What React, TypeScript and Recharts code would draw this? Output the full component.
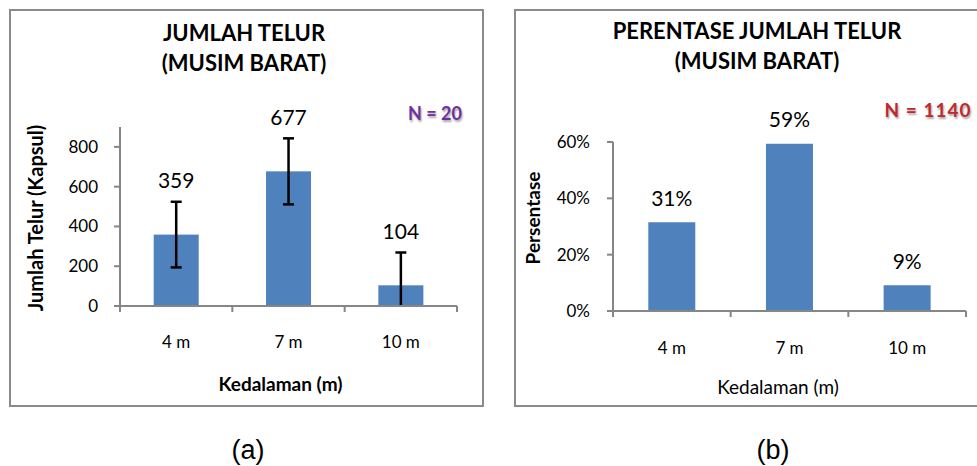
import React from 'react';
import { BarChart, Bar, XAxis, YAxis, LabelList, Label } from 'recharts';

const categories = ['4 m', '7 m', '10 m'];
const eggCounts = [359, 677, 104];
const eggErrors = [165, 166, 165];
const countTicks = [0, 200, 400, 600, 800];
const percentValues = [31.5, 59.4, 9.1];
const percentLabels = ['31%', '59%', '9%'];
const percentTicks = [0, 20, 40, 60];

const countData = categories.map((c, i) => ({ cat: c, value: eggCounts[i], err: eggErrors[i] }));
const percentData = categories.map((c, i) => ({ cat: c, value: percentValues[i], label: percentLabels[i] }));

const FONT = 'Lato, "Open Sans", "DejaVu Sans", sans-serif';
const AXIS = '#868686';
const BAR = '#4F81BD';

const makeCatTick = (labelDy: number, fallbackHalf: number) => (props: any) => {
  const { x, y, payload, index } = props;
  const half = payload && typeof payload.offset === 'number' && payload.offset > 0 ? payload.offset : fallbackHalf;
  const last = index === categories.length - 1;
  return (
    <g>
      <line x1={x - half} x2={x - half} y1={y} y2={y + 6} stroke={AXIS} strokeWidth={2} />
      {last && <line x1={x + half} x2={x + half} y1={y} y2={y + 6} stroke={AXIS} strokeWidth={2} />}
      <text x={x} y={y + labelDy} textAnchor="middle" dominantBaseline="central" fontFamily={FONT} fontSize={17} fill="#000">
        {payload.value}
      </text>
    </g>
  );
};

// Bar with error bar: error length derived from the bar's own pixel scale (height / value)
const BarWithError = (props: any) => {
  const { x, y, width, height, fill, payload } = props;
  const val = payload.value;
  const pxPerUnit = val ? height / val : 0;
  const errPx = payload.err * pxPerUnit;
  const cx = x + width / 2;
  const base = y + height;
  const top = y - errPx;
  const rawBottom = y + errPx;
  const clipped = rawBottom > base;
  const bottom = clipped ? base : rawBottom;
  const cap = 5.5;
  return (
    <g>
      <rect x={x} y={y} width={width} height={height} fill={fill} />
      <line x1={cx} x2={cx} y1={top} y2={bottom} stroke="#000" strokeWidth={2.5} />
      <line x1={cx - cap} x2={cx + cap} y1={top} y2={top} stroke="#000" strokeWidth={2.5} />
      {!clipped && <line x1={cx - cap} x2={cx + cap} y1={bottom} y2={bottom} stroke="#000" strokeWidth={2.5} />}
    </g>
  );
};

const makeTopLabel = (gap: number) => (props: any) => {
  const { x, y, width, value } = props;
  return (
    <text x={x + width / 2} y={y - gap} textAnchor="middle" dominantBaseline="central" fontFamily={FONT} fontSize={21} fill="#000">
      {value}
    </text>
  );
};

const makeYTitle = (text: string, dxFromLeft: number, dyFromMid: number, size: number) => (props: any) => {
  const vb = props.viewBox || {};
  const cx = vb.x + dxFromLeft;
  const cy = vb.y + vb.height / 2 + dyFromMid;
  return (
    <text x={cx} y={cy} transform={`rotate(-90 ${cx} ${cy})`} textAnchor="middle" dominantBaseline="central" fontFamily={FONT} fontWeight="bold" fontSize={size} fill="#000">
      {text}
    </text>
  );
};

const makeXTitle = (text: string, dxFromMid: number, dyFromTop: number, bold: boolean) => (props: any) => {
  const vb = props.viewBox || {};
  const cx = vb.x + vb.width / 2 + dxFromMid;
  const cy = vb.y + dyFromTop;
  return (
    <text x={cx} y={cy} textAnchor="middle" dominantBaseline="central" fontFamily={FONT} fontWeight={bold ? 'bold' : 'normal'} fontSize={19} fill="#000">
      {text}
    </text>
  );
};

const titleStyle = (cx: number, top: number): React.CSSProperties => ({
  position: 'absolute',
  left: cx - 200,
  top,
  width: 400,
  textAlign: 'center',
  fontFamily: FONT,
  fontWeight: 'bold',
  fontSize: 22,
  lineHeight: '30px',
  color: '#000',
});

const capStyle = (left: number): React.CSSProperties => ({
  position: 'absolute',
  left,
  top: 434,
  width: 100,
  textAlign: 'center',
  fontFamily: '"Liberation Sans", Arial, sans-serif',
  fontSize: 27,
  lineHeight: '32px',
  color: '#000',
});

export default function App() {
  return (
    <div style={{ position: 'absolute', left: 0, top: 0, width: 977, height: 466, background: '#fff', overflow: 'hidden' }}>
      <div style={{ position: 'absolute', left: 9, top: 9, width: 475, height: 398, border: '2px solid #8a8a8a', boxSizing: 'border-box' }} />
      <div style={{ position: 'absolute', left: 514, top: 9, width: 500, height: 398, border: '2px solid #8a8a8a', boxSizing: 'border-box' }} />

      <div style={titleStyle(244, 18)}>
        JUMLAH TELUR
        <br />
        (MUSIM BARAT)
      </div>
      <div style={titleStyle(757, 16)}>
        PERENTASE JUMLAH TELUR
        <br />
        (MUSIM BARAT)
      </div>

      <div style={{ position: 'absolute', left: 395, top: 102, width: 80, textAlign: 'center', fontFamily: FONT, fontWeight: 'bold', fontSize: 18, lineHeight: '22px', color: '#7030A0', textShadow: '1px 2px 2px rgba(0,0,0,0.35)' }}>
        N = 20
      </div>
      <div style={{ position: 'absolute', left: 868, top: 98, width: 120, textAlign: 'center', fontFamily: FONT, fontWeight: 'bold', fontSize: 19, letterSpacing: 1, lineHeight: '24px', color: '#C0282D', textShadow: '1px 2px 2px rgba(0,0,0,0.35)' }}>
        N = 1140
      </div>

      <div style={{ position: 'absolute', left: 10, top: 9 }}>
        <BarChart width={473} height={397} data={countData} margin={{ top: 118, right: 26, bottom: 0, left: 0 }} barCategoryGap="30%">
          <XAxis dataKey="cat" height={100} axisLine={{ stroke: AXIS, strokeWidth: 2 }} tickLine={false} tickSize={0} tickMargin={0} interval={0} tick={makeCatTick(35, 56)}>
            <Label content={makeXTitle('Kedalaman (m)', -8, 77, true)} />
          </XAxis>
          <YAxis width={110} domain={[0, 900]} ticks={countTicks} allowDataOverflow axisLine={{ stroke: AXIS, strokeWidth: 2 }} tickLine={{ stroke: AXIS, strokeWidth: 2 }} tickSize={6} tickMargin={16} tick={{ fontFamily: FONT, fontSize: 17, fill: '#000' }}>
            <Label content={makeYTitle('Jumlah Telur (Kapsul)', 25, 1.5, 20)} />
          </YAxis>
          <Bar dataKey="value" fill={BAR} isAnimationActive={false} shape={BarWithError}>
            <LabelList dataKey="value" content={makeTopLabel(55)} />
          </Bar>
        </BarChart>
      </div>

      <div style={{ position: 'absolute', left: 514, top: 9 }}>
        <BarChart width={463} height={397} data={percentData} margin={{ top: 133, right: 11, bottom: 0, left: 0 }} barCategoryGap="30%">
          <XAxis dataKey="cat" height={95} axisLine={{ stroke: AXIS, strokeWidth: 2 }} tickLine={false} tickSize={0} tickMargin={0} interval={0} tick={makeCatTick(36, 59)}>
            <Label content={makeXTitle('Kedalaman (m)', -11.5, 75, false)} />
          </XAxis>
          <YAxis width={99} domain={[0, 60]} ticks={percentTicks} allowDataOverflow tickFormatter={(v: number) => `${v}%`} axisLine={{ stroke: AXIS, strokeWidth: 2 }} tickLine={{ stroke: AXIS, strokeWidth: 2 }} tickSize={6} tickMargin={17} tick={{ fontFamily: FONT, fontSize: 17, fill: '#000' }}>
            <Label content={makeYTitle('Persentase', 18, -8.5, 19)} />
          </YAxis>
          <Bar dataKey="value" fill={BAR} isAnimationActive={false}>
            <LabelList dataKey="label" content={makeTopLabel(25)} />
          </Bar>
        </BarChart>
      </div>

      <div style={capStyle(198)}>(a)</div>
      <div style={capStyle(723)}>(b)</div>
    </div>
  );
}
